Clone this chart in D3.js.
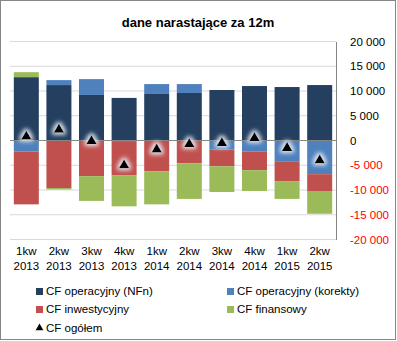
<!DOCTYPE html>
<html>
<head>
<meta charset="utf-8">
<script src="https://cdn.jsdelivr.net/npm/d3@7"></script>
<style>
  body { margin: 0; background: #fff; }
  svg { font-family: "Liberation Sans", Arial, sans-serif; }
</style>
</head>
<body>
<svg id="chart" width="397" height="341"></svg>
<script>
const categories = ["1kw 2013", "2kw 2013", "3kw 2013", "4kw 2013", "1kw 2014",
                    "2kw 2014", "3kw 2014", "4kw 2014", "1kw 2015", "2kw 2015"];
const cfOperNFn = [12800, 11200, 9200, 8600, 9400, 9600, 10200, 11000, 10800, 11200];
const cfOperKorekty = [-2200, 1000, 3200, -300, 2000, 1800, -1800, -2200, -4300, -6800];
const cfInwest = [-10700, -9600, -7200, -6700, -6200, -4600, -3400, -3800, -3900, -3400];
const cfFinans = [1000, -300, -5000, -6300, -6700, -7200, -5200, -4200, -3600, -4600];
const cfOgolem = [1000, 2400, 100, -4800, -1600, -500, -300, 700, -1300, -3800];
const yTicks = [-20000, -15000, -10000, -5000, 0, 5000, 10000, 15000, 20000];

const seriesNames = ["CF operacyjny (NFn)", "CF operacyjny (korekty)", "CF inwestycyjny", "CF finansowy"];
const colors = ["#243f60", "#4f81bd", "#c0504d", "#9bbb59"];
const seriesData = [cfOperNFn, cfOperKorekty, cfInwest, cfFinans];

const rows = categories.map((c, i) => {
  const r = { cat: c };
  seriesNames.forEach((s, j) => r[s] = seriesData[j][i]);
  return r;
});

const svg = d3.select("#chart");

// frame
svg.append("rect")
  .attr("x", 0.5).attr("y", 0.5)
  .attr("width", 395).attr("height", 339)
  .attr("fill", "#fff").attr("stroke", "#868686");

svg.append("text")
  .attr("x", 198).attr("y", 27)
  .attr("text-anchor", "middle")
  .style("font-size", "13px").style("font-weight", "bold")
  .text("dane narastające za 12m");

const x = d3.scaleBand()
  .domain(categories)
  .range([10, 336])
  .paddingInner(0.233)
  .paddingOuter(0.117);

const y = d3.scaleLinear()
  .domain([-20000, 20000])
  .range([239.5, 41.5]);

const loc = d3.formatLocale({ decimal: ",", thousands: " ", grouping: [3], currency: ["", ""], minus: "-" });
const fmt = loc.format(",d");

// gridlines
svg.append("g")
  .selectAll("line")
  .data(yTicks.filter(d => d !== 0))
  .join("line")
  .attr("x1", 10).attr("x2", 336)
  .attr("y1", d => y(d)).attr("y2", d => y(d))
  .attr("stroke", "#d9d9d9");

// bars
const stack = d3.stack().keys(seriesNames).offset(d3.stackOffsetDiverging);
const layers = stack(rows);

svg.append("g")
  .selectAll("g")
  .data(layers)
  .join("g")
  .attr("fill", (d, i) => colors[i])
  .selectAll("rect")
  .data(d => d)
  .join("rect")
  .attr("x", d => x(d.data.cat))
  .attr("width", x.bandwidth())
  .attr("y", d => y(Math.max(d[0], d[1])))
  .attr("height", d => Math.abs(y(d[0]) - y(d[1])));

// zero line
svg.append("line")
  .attr("x1", 10).attr("x2", 336)
  .attr("y1", y(0)).attr("y2", y(0))
  .attr("stroke", "#868686").attr("stroke-width", 1);

// right axis
const yAxis = svg.append("g")
  .attr("transform", "translate(336,0)")
  .call(d3.axisRight(y).tickValues(yTicks).tickSize(0).tickSizeOuter(0).tickPadding(14).tickFormat(fmt));
yAxis.select(".domain").attr("stroke", "#868686");
yAxis.selectAll("text")
  .style("font-size", "11.5px")
  .attr("fill", d => d < 0 ? "#ff0000" : "#000");

// x labels
const xAxis = svg.append("g")
  .attr("transform", "translate(0,247)")
  .call(d3.axisBottom(x).tickSize(0).tickPadding(0));
xAxis.select(".domain").remove();
xAxis.selectAll("text")
  .style("font-size", "11.5px")
  .attr("fill", "#000")
  .text(null)
  .each(function(d) {
    const parts = d.split(" ");
    const t = d3.select(this);
    t.append("tspan").attr("x", 0).attr("dy", "0.71em").text(parts[0]);
    t.append("tspan").attr("x", 0).attr("dy", "1.3em").text(parts[1]);
  });

// glow filter for markers
const defs = svg.append("defs");
const f = defs.append("filter").attr("id", "glow")
  .attr("x", "-100%").attr("y", "-100%").attr("width", "300%").attr("height", "300%");
f.append("feMorphology").attr("in", "SourceAlpha").attr("operator", "dilate").attr("radius", 1.5).attr("result", "d");
f.append("feGaussianBlur").attr("in", "d").attr("stdDeviation", 2).attr("result", "b");
f.append("feFlood").attr("flood-color", "#e8eef6").attr("flood-opacity", 0.95);
f.append("feComposite").attr("in2", "b").attr("operator", "in").attr("result", "g");
const m = f.append("feMerge");
m.append("feMergeNode").attr("in", "g");
m.append("feMergeNode").attr("in", "SourceGraphic");

const tri = d3.symbol(d3.symbolTriangle, 48);

svg.append("g")
  .selectAll("path")
  .data(cfOgolem)
  .join("path")
  .attr("d", tri)
  .attr("transform", (d, i) => `translate(${x(categories[i]) + x.bandwidth() / 2},${y(d) + 1})`)
  .attr("fill", "#000")
  .attr("filter", "url(#glow)");

// legend
const legendItems = [
  { name: seriesNames[0], color: colors[0], lx: 36, ly: 295 },
  { name: seriesNames[1], color: colors[1], lx: 227, ly: 295 },
  { name: seriesNames[2], color: colors[2], lx: 36, ly: 313 },
  { name: seriesNames[3], color: colors[3], lx: 227, ly: 313 }
];
const lg = svg.append("g").style("font-size", "11.5px");
legendItems.forEach(it => {
  lg.append("rect")
    .attr("x", it.lx).attr("y", it.ly - 7)
    .attr("width", 7).attr("height", 7)
    .attr("fill", it.color);
  lg.append("text")
    .attr("x", it.lx + 10).attr("y", it.ly)
    .text(it.name);
});
lg.append("path")
  .attr("d", d3.symbol(d3.symbolTriangle, 26))
  .attr("transform", "translate(39.5,328)")
  .attr("fill", "#000");
lg.append("text")
  .attr("x", 46).attr("y", 332)
  .text("CF ogółem");
</script>
</body>
</html>
